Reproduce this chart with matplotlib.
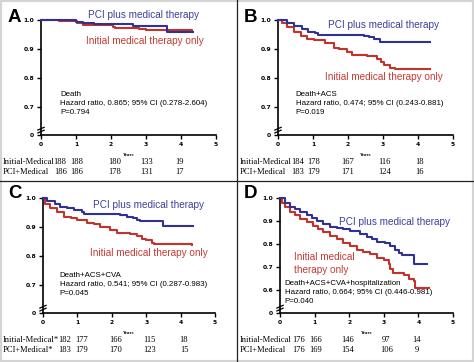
import matplotlib
matplotlib.use("Agg")
import matplotlib.pyplot as plt
from matplotlib.patches import Rectangle

W, H = 474, 362
BLUE = "#2f3194"
RED = "#c3322b"
BLUE_TXT = "#3d3f9c"
RED_TXT = "#c43a33"

# ---- data ----
a_pci_t = [0, 1.0, 1.2, 1.5, 2.62, 3.6, 4.35]
a_pci_s = [1.0, 0.993, 0.99, 0.986, 0.978, 0.960, 0.960]
a_med_t = [0, 0.5, 1.02, 1.2, 2.05, 2.1, 2.8, 3.0, 4.3]
a_med_s = [1.0, 0.996, 0.99, 0.983, 0.976, 0.971, 0.968, 0.964, 0.962]

b_pci_t = [0, 0.26, 0.45, 0.68, 0.87, 1.06, 1.15, 2.45, 2.6, 2.75, 2.9, 4.35]
b_pci_s = [1.0, 0.99, 0.98, 0.97, 0.96, 0.955, 0.948, 0.946, 0.94, 0.934, 0.924, 0.923]
b_med_t = [0, 0.1, 0.25, 0.45, 0.65, 0.83, 1.02, 1.35, 1.6, 1.75, 1.97, 2.1, 2.55,
           2.83, 2.93, 3.02, 3.2, 3.35, 4.33]
b_med_s = [1.0, 0.99, 0.975, 0.96, 0.945, 0.935, 0.93, 0.92, 0.905, 0.9, 0.89, 0.88,
           0.875, 0.865, 0.855, 0.845, 0.835, 0.83, 0.83]

c_pci_t = [0, 0.12, 0.36, 0.5, 0.7, 0.89, 1.13, 1.2, 2.24, 2.44, 2.63, 2.72, 2.82, 3.5, 4.35]
c_pci_s = [1.0, 0.99, 0.98, 0.97, 0.965, 0.96, 0.95, 0.945, 0.94, 0.935, 0.93, 0.925,
           0.92, 0.905, 0.903]
c_med_t = [0, 0.07, 0.2, 0.4, 0.6, 0.8, 0.98, 1.27, 1.47, 1.66, 1.95, 2.15, 2.53, 2.72,
           2.87, 3.0, 3.16, 3.22, 4.32]
c_med_s = [1.0, 0.98, 0.965, 0.95, 0.935, 0.93, 0.925, 0.915, 0.91, 0.9, 0.89, 0.88,
           0.875, 0.868, 0.86, 0.855, 0.845, 0.84, 0.838]

d_pci_t = [0, 0.15, 0.29, 0.43, 0.58, 0.77, 0.92, 1.06, 1.25, 1.45, 1.64, 1.83, 2.03,
           2.32, 2.51, 2.65, 2.8, 3.04, 3.19, 3.33, 3.43, 3.52, 3.86, 4.25]
d_pci_s = [1.0, 0.98, 0.96, 0.95, 0.94, 0.925, 0.915, 0.9, 0.885, 0.875, 0.87, 0.865,
           0.855, 0.845, 0.83, 0.82, 0.81, 0.805, 0.79, 0.775, 0.76, 0.75, 0.715, 0.715]
d_med_t = [0, 0.05, 0.15, 0.29, 0.43, 0.58, 0.77, 0.96, 1.1, 1.25, 1.45, 1.64, 1.83,
           2.03, 2.22, 2.41, 2.6, 2.8, 3.0, 3.14, 3.18, 3.28, 3.57, 3.72, 3.86, 3.9, 4.32]
d_med_s = [1.0, 0.98, 0.96, 0.94, 0.925, 0.91, 0.895, 0.88, 0.865, 0.85, 0.835, 0.82,
           0.805, 0.79, 0.775, 0.765, 0.755, 0.74, 0.73, 0.715, 0.69, 0.675, 0.665, 0.65,
           0.64, 0.61, 0.61]

endpoints = ["Death", "Death+ACS", "Death+ACS+CVA", "Death+ACS+CVA+hospitalization"]
hazard_ratios = ["0.865; 95% CI (0.278-2.604)", "0.474; 95% CI (0.243-0.881)",
                 "0.541; 95% CI (0.287-0.983)", "0.664; 95% CI (0.446-0.981)"]
p_values = ["0.794", "0.019", "0.045", "0.040"]

risk_labels = [("Initial-Medical", "PCI+Medical"), ("Initial-Medical", "PCI+Medical"),
               ("Initial-Medical*", "PCI+Medical*"), ("Initial-Medical", "PCI+Medical")]
risk_med = [[188, 188, 180, 133, 19], [184, 178, 167, 116, 18],
            [182, 177, 166, 115, 18], [176, 166, 146, 97, 14]]
risk_pci = [[186, 186, 178, 131, 17], [183, 179, 171, 124, 16],
            [183, 179, 170, 123, 15], [176, 169, 154, 106, 9]]
risk_x = [[0.55, 1.02, 2.1, 3.03, 3.97], [0.55, 1.02, 2.0, 3.05, 4.05],
          [0.63, 1.12, 2.1, 3.1, 4.1], [0.55, 1.02, 1.95, 3.07, 3.95]]

letters = ["A", "B", "C", "D"]

# panel geometry in pixels: x of year 0, x of year 5, y of 1.0, y of bottom
boxes = [(41, 216, 20, 135), (278, 453, 20, 135), (43, 215, 198, 313), (280, 453, 198, 313)]
ybottom = [0.603, 0.603, 0.603, 0.5]
yticks = [[0.7, 0.8, 0.9, 1.0], [0.7, 0.8, 0.9, 1.0], [0.7, 0.8, 0.9, 1.0],
          [0.6, 0.7, 0.8, 0.9, 1.0]]
pci_lbl = [(1.34, 1.017), (1.43, 0.983), (1.45, 0.976), (1.7, 0.896)]
med_lbl = [(1.29, 0.928), (1.34, 0.803), (1.37, 0.81), (0.4, 0.715)]
note_xy = [(0.54, 0.755), (0.51, 0.755), (0.49, 0.744), (0.14, 0.642)]

curves = [(a_pci_t, a_pci_s, a_med_t, a_med_s), (b_pci_t, b_pci_s, b_med_t, b_med_s),
          (c_pci_t, c_pci_s, c_med_t, c_med_s), (d_pci_t, d_pci_s, d_med_t, d_med_s)]

fig = plt.figure(figsize=(W / 100, H / 100), dpi=100)
fig.patch.set_facecolor("white")

for i in range(4):
    x0, x5, y1, yb = boxes[i]
    ax = fig.add_axes([x0 / W, 1 - yb / H, (x5 - x0) / W, (yb - y1) / H])
    ax.set_xlim(0, 5)
    ax.set_ylim(ybottom[i], 1.0)
    pt, ps, mt, ms = curves[i]
    ax.step(mt, ms, where="post", color=RED, lw=1.5, clip_on=False, zorder=3)
    ax.step(pt, ps, where="post", color=BLUE, lw=1.5, clip_on=False, zorder=4)

    for s in ["top", "right"]:
        ax.spines[s].set_visible(False)
    for s in ["left", "bottom"]:
        ax.spines[s].set_linewidth(1.2)
    ax.set_xticks(range(6))
    ax.set_xticklabels([str(v) for v in range(6)])
    ax.set_yticks([ybottom[i]] + yticks[i])
    ax.set_yticklabels(["0"] + ["%.1f" % v for v in yticks[i]])
    ax.tick_params(length=3, width=1, pad=2, labelsize=4.3)
    for lab in ax.get_xticklabels() + ax.get_yticklabels():
        lab.set_fontweight("bold")

    # axis break marks
    for yy in (0.03, 0.055):
        ax.plot([-0.018, 0.018], [yy - 0.012, yy + 0.012], transform=ax.transAxes,
                color="black", lw=0.9, clip_on=False, zorder=6)

    ax.text(0.5, -0.17, "Years", transform=ax.transAxes, ha="center", va="center",
            fontsize=3.5, fontweight="bold", family="Liberation Serif")

    ax.text(pci_lbl[i][0], pci_lbl[i][1], "PCI plus medical therapy", color=BLUE_TXT,
            fontsize=7.2, family="Liberation Sans", va="center", clip_on=False)
    med_txt = "Initial medical\ntherapy only" if i == 3 else "Initial medical therapy only"
    ax.text(med_lbl[i][0], med_lbl[i][1], med_txt, color=RED_TXT, fontsize=7.2,
            family="Liberation Sans", va="center", linespacing=1.3)
    ax.text(note_xy[i][0], note_xy[i][1],
            endpoints[i] + "\nHazard ratio, " + hazard_ratios[i] + "\nP=" + p_values[i],
            fontsize=5.7, family="Liberation Sans", va="top", linespacing=1.4)

    # numbers at risk
    tr = ax.get_xaxis_transform()
    for row, (vals, yy) in enumerate([(risk_med[i], -0.235), (risk_pci[i], -0.32)]):
        for xv, v in zip(risk_x[i], vals):
            ax.text(xv, yy, str(v), transform=tr, ha="center", va="center",
                    fontsize=6.1, family="Liberation Serif", clip_on=False)
        px = (3 if i % 2 == 0 else 240) / W
        fig.text(px, 1 - (yb + 27 + row * 10) / H, risk_labels[i][row], ha="left",
                 va="center", fontsize=6.1, family="Liberation Serif")

    lx = (8 if i % 2 == 0 else 244) / W
    ly = 1 - (17 if i < 2 else 194) / H
    fig.text(lx, ly, letters[i], fontsize=13.5, fontweight="bold",
             family="Liberation Sans", ha="left", va="center")

# panel separators and outer frame
fig.add_artist(plt.Line2D([236.5 / W, 236.5 / W], [0, 1], color="#222222", lw=0.9))
fig.add_artist(plt.Line2D([0, 1], [1 - 181 / H, 1 - 181 / H], color="#222222", lw=0.9))
fig.add_artist(Rectangle((0, 0), 1, 1, transform=fig.transFigure, fill=False,
                         edgecolor="#d4d4d4", lw=3))

fig.savefig("out.png", dpi=100)
